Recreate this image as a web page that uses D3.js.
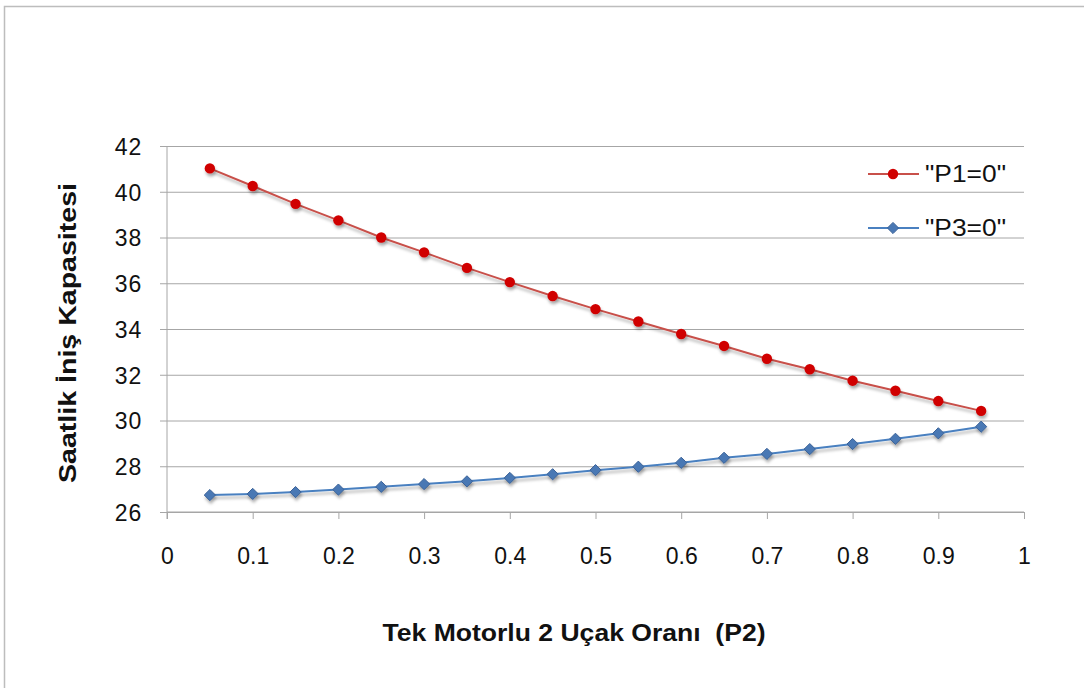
<!DOCTYPE html>
<html>
<head>
<meta charset="utf-8">
<script src="https://cdn.jsdelivr.net/npm/d3@7"></script>
<style>
  body { margin: 0; background: #fff; }
  text { font-family: "Liberation Sans", Arial, sans-serif; fill: #111; }
</style>
</head>
<body>
<div id="chart"></div>
<script>
const p2 = [0.05, 0.1, 0.15, 0.2, 0.25, 0.3, 0.35, 0.4, 0.45, 0.5,
  0.55, 0.6, 0.65, 0.7, 0.75, 0.8, 0.85, 0.9, 0.95];
const p1zero = [41.02, 40.25, 39.47, 38.75, 38.0, 37.35, 36.67, 36.05, 35.44, 34.87,
  34.33, 33.78, 33.26, 32.70, 32.24, 31.74, 31.30, 30.85, 30.42];
const p3zero = [26.74, 26.79, 26.87, 26.98, 27.1, 27.22, 27.34, 27.49, 27.65, 27.83,
  27.98, 28.15, 28.37, 28.54, 28.75, 28.97, 29.2, 29.44, 29.73];
const seriesNames = ['"P1=0"', '"P3=0"'];
const xTicks = [0, 0.1, 0.2, 0.3, 0.4, 0.5, 0.6, 0.7, 0.8, 0.9, 1];
const yTicks = [26, 28, 30, 32, 34, 36, 38, 40, 42];

const W = 1084, H = 688;
const margin = { top: 146, right: 60, bottom: 176, left: 167 },
  width = 1024 - margin.left,
  height = 512 - margin.top;

const svg = d3.select("#chart").append("svg")
  .attr("width", W)
  .attr("height", H);

// drop shadow like the office chart
const defs = svg.append("defs");
const f = defs.append("filter").attr("id", "shadow")
  .attr("x", "-20%").attr("y", "-20%").attr("width", "140%").attr("height", "160%");
f.append("feDropShadow").attr("dx", 1).attr("dy", 3).attr("stdDeviation", 1.8)
  .attr("flood-color", "#000").attr("flood-opacity", 0.3);

// outer frame
svg.append("rect")
  .attr("x", 4.5).attr("y", 6.5)
  .attr("width", W + 10).attr("height", H + 10)
  .attr("fill", "none").attr("stroke", "#bdbdbd").attr("stroke-width", 1.5);

const g = svg.append("g")
  .attr("transform", "translate(" + margin.left + "," + margin.top + ")");

const x = d3.scaleLinear().domain([0, 1]).range([0, width]);
const y = d3.scaleLinear().domain([26, 42]).range([height, 0]);

// horizontal gridlines + y axis
const yAxis = d3.axisLeft(y).tickValues(yTicks).tickSize(-width).tickPadding(25)
  .tickFormat(d3.format("d"));
g.append("g").attr("class", "y axis").call(yAxis)
  .call(s => s.select(".domain").remove())
  .call(s => s.selectAll(".tick line").attr("stroke", "#a6a6a6").attr("x1", -7))
  .call(s => s.selectAll(".tick text").attr("font-size", 23).attr("letter-spacing", 0.8)
    .attr("dy", "0.36em"));

// x axis
const xAxis = d3.axisBottom(x).tickValues(xTicks).tickSize(7).tickPadding(14)
  .tickFormat(d => d === 0 || d === 1 ? d3.format("d")(d) : d3.format(".1f")(d));
g.append("g").attr("class", "x axis")
  .attr("transform", "translate(0," + height + ")")
  .call(xAxis)
  .call(s => s.select(".domain").attr("stroke", "#a6a6a6").attr("d", "M0,0H" + width))
  .call(s => s.selectAll(".tick line").attr("stroke", "#a6a6a6"))
  .call(s => s.selectAll(".tick text").attr("font-size", 23)
    .attr("y", 52).attr("dy", 0));

// vertical axis line
g.append("line")
  .attr("x1", 0).attr("x2", 0).attr("y1", 0).attr("y2", height + 7)
  .attr("stroke", "#a6a6a6");

const red = { line: "#c8504a", fill: "#d00000", stroke: "#c00000" };
const blue = { line: "#4a80c0", fill: "#4a78b4", stroke: "#3a6298" };

const line = d3.line().x(d => x(d[0])).y(d => y(d[1]));
const redData = p2.map((v, i) => [v, p1zero[i]]);
const blueData = p2.map((v, i) => [v, p3zero[i]]);

g.append("path").datum(redData)
  .attr("d", line).attr("fill", "none")
  .attr("stroke", red.line).attr("stroke-width", 2)
  .attr("filter", "url(#shadow)");
g.append("path").datum(blueData)
  .attr("d", line).attr("fill", "none")
  .attr("stroke", blue.line).attr("stroke-width", 2)
  .attr("filter", "url(#shadow)");

g.append("g").attr("filter", "url(#shadow)")
  .selectAll("circle").data(redData).join("circle")
  .attr("cx", d => x(d[0])).attr("cy", d => y(d[1]))
  .attr("r", 5.2).attr("fill", red.fill);

const diamond = d3.symbol().type(d3.symbolDiamond2).size(80);
g.append("g").attr("filter", "url(#shadow)")
  .selectAll("path").data(blueData).join("path")
  .attr("transform", d => "translate(" + x(d[0]) + "," + y(d[1]) + ")")
  .attr("d", diamond)
  .attr("fill", blue.fill).attr("stroke", blue.stroke).attr("stroke-width", 1);

// legend
const legend = svg.append("g").attr("transform", "translate(868,174)");
const styles = [red, blue];
seriesNames.forEach((name, i) => {
  const row = legend.append("g").attr("transform", "translate(0," + i * 54 + ")");
  row.append("line").attr("x1", 0).attr("x2", 51).attr("y1", 0).attr("y2", 0)
    .attr("stroke", styles[i].line).attr("stroke-width", 2);
  if (i === 0) {
    row.append("circle").attr("cx", 25).attr("cy", 0).attr("r", 5.2).attr("fill", red.fill);
  } else {
    row.append("path").attr("transform", "translate(25,0)").attr("d", diamond)
      .attr("fill", blue.fill).attr("stroke", blue.stroke);
  }
  row.append("text").attr("x", 57).attr("y", 0).attr("dy", "0.36em")
    .attr("font-size", 23).attr("textLength", 81).attr("lengthAdjust", "spacingAndGlyphs")
    .text(name);
});

// axis titles
svg.append("text")
  .attr("x", 574).attr("y", 641)
  .attr("text-anchor", "middle")
  .attr("font-size", 23).attr("font-weight", "bold")
  .attr("textLength", 383).attr("lengthAdjust", "spacingAndGlyphs")
  .style("white-space", "pre")
  .text("Tek Motorlu 2 Uçak Oranı  (P2)");

svg.append("text")
  .attr("transform", "translate(76,333) rotate(-90)")
  .attr("text-anchor", "middle")
  .attr("font-size", 23).attr("font-weight", "bold")
  .attr("textLength", 300).attr("lengthAdjust", "spacingAndGlyphs")
  .text("Saatlik İniş Kapasitesi");
</script>
</body>
</html>
